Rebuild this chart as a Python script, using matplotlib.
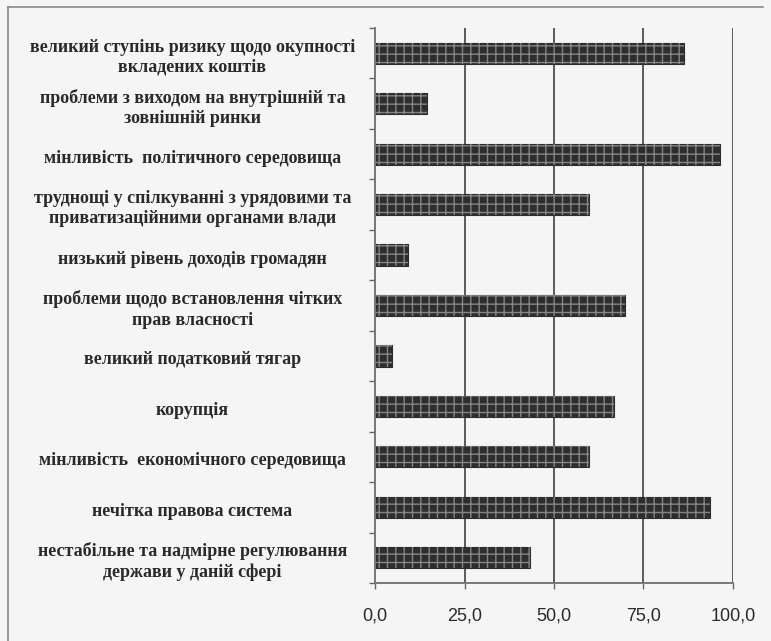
import numpy as np
import matplotlib.pyplot as plt
from matplotlib.lines import Line2D

# дані діаграми (зверху вниз)
categories = [
    'великий ступінь ризику щодо окупності\nвкладених коштів',
    'проблеми з виходом на внутрішній та\nзовнішній ринки',
    'мінливість  політичного середовища',
    'труднощі у спілкуванні з урядовими та\nприватизаційними органами влади',
    'низький рівень доходів громадян',
    'проблеми щодо встановлення чітких\nправ власності',
    'великий податковий тягар',
    'корупція',
    'мінливість  економічного середовища',
    'нечітка правова система',
    'нестабільне та надмірне регулювання\nдержави у даній сфері',
]
values = [86.3, 14.6, 96.4, 59.9, 9.3, 69.9, 4.8, 66.9, 59.9, 93.7, 43.4]
x_ticks = [0, 25, 50, 75, 100]
x_tick_labels = ['0,0', '25,0', '50,0', '75,0', '100,0']

bg = '#f5f5f5'
fig = plt.figure(figsize=(7.71, 6.41), dpi=100, facecolor=bg)
ax = fig.add_axes([0.4864, 0.0905, 0.4643, 0.8658], facecolor=bg)

y = np.arange(len(categories))

# сітка
for xt in x_ticks[1:]:
    ax.axvline(xt, color='#5a5a5a', lw=1.4, zorder=1)

# стовпці: темна заливка + світла сітчаста штриховка
ax.barh(y, values, height=0.42, color='#2e2e2e', edgecolor='#2e2e2e',
        lw=0.8, zorder=2)
ax.barh(y, values, height=0.42, color='none', edgecolor='#858585',
        hatch='++', lw=0, zorder=3)

ax.set_xlim(0, 100)
ax.set_ylim(len(categories) - 0.5, -0.5)

ax.set_xticks(x_ticks)
ax.set_xticklabels(x_tick_labels, family='Liberation Sans', fontsize=13,
                   color='#2a2a2a')
ax.tick_params(axis='x', length=4, width=1, color='#666666', pad=14)

# мітки категорій у центрі між засічками
ax.set_yticks(np.arange(len(categories) + 1) - 0.5)
ax.set_yticklabels([])
ax.tick_params(axis='y', length=4, width=1, color='#666666')
for yi, cat in zip(y, categories):
    ax.text(-51.0, yi + 0.08, cat, ha='center', va='center',
            family='Liberation Serif', fontweight='bold', fontsize=13,
            color='#2a2a2a', linespacing=1.25, clip_on=False)

for s in ['top', 'right']:
    ax.spines[s].set_visible(False)
for s in ['left', 'bottom']:
    ax.spines[s].set_color('#777777')
    ax.spines[s].set_linewidth(1.4)

# рамка скану
fig.add_artist(Line2D([0.011, 0.011], [0.0, 0.989], color='#888888',
                      lw=1.2, transform=fig.transFigure))
fig.add_artist(Line2D([0.011, 0.99], [0.989, 0.989], color='#888888',
                      lw=1.2, transform=fig.transFigure))

plt.savefig('out.png', dpi=100, facecolor=bg)
